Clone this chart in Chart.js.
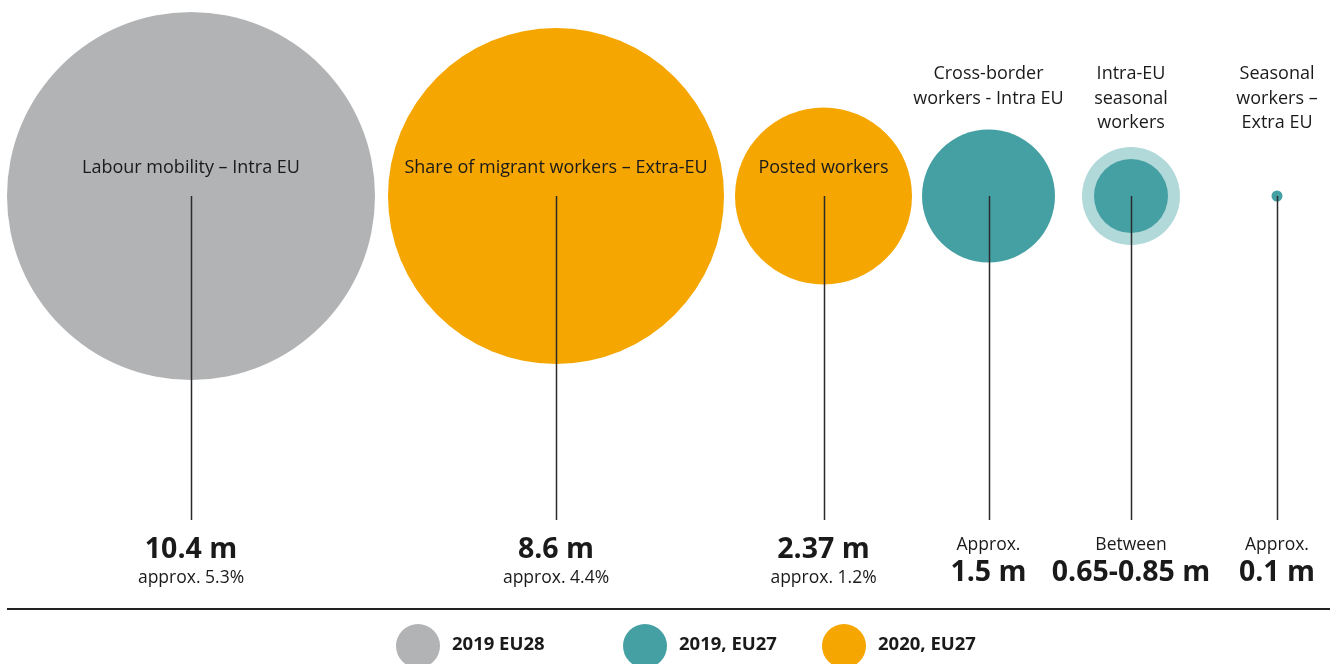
<!DOCTYPE html>
<html>
<head>
<meta charset="utf-8">
<script src="https://cdn.jsdelivr.net/npm/chart.js@4/dist/chart.umd.min.js"></script>
<style>
    html, body { margin: 0; padding: 0; background: #ffffff; }
    #wrap { width: 1336px; height: 664px; position: relative; }
</style>
</head>
<body>
<div id="wrap"><canvas id="chart"></canvas></div>
<script>
// values read from the infographic (millions of workers)
const categories = [
    'Labour mobility – Intra EU',
    'Share of migrant workers – Extra-EU',
    'Posted workers',
    'Cross-border workers - Intra EU',
    'Intra-EU seasonal workers',
    'Seasonal workers – Extra EU',
];
const seriesName = ['2019 EU28', '2019, EU27', '2020, EU27'];
const seriesOf = [0, 2, 2, 1, 1, 1];
const valueLow = [10.4, 8.6, 2.37, 1.5, 0.65, 0.1];
const valueHigh = [10.4, 8.6, 2.37, 1.5, 0.85, 0.1];
const valueText = ['10.4 m', '8.6 m', '2.37 m', '1.5 m', '0.65-0.85 m', '0.1 m'];
const prefixText = ['', '', '', 'Approx.', 'Between', 'Approx.'];
const shareText = ['approx. 5.3%', 'approx. 4.4%', 'approx. 1.2%', '', '', ''];

// layout: where each bubble sits and how big it is drawn (px)
const slotX = [191, 556, 823.5, 988.5, 1131, 1277];
const radiusLow = [184, 168, 88.5, 66.5, 37, 5.5];
const radiusHigh = [184, 168, 88.5, 66.5, 49, 5.5];
const labelInside = [true, true, true, false, false, false];
const labelLines = [
    ['Labour mobility – Intra EU'],
    ['Share of migrant workers – Extra-EU'],
    ['Posted workers'],
    ['Cross-border', 'workers - Intra EU'],
    ['Intra-EU', 'seasonal', 'workers'],
    ['Seasonal', 'workers –', 'Extra EU'],
];

const colors = ['#b2b3b5', '#45a0a3', '#f5a600'];
const ringColor = '#b2d9da';
const ink = '#1a1a1a';
const FONT = '"Open Sans", "Noto Sans", sans-serif';

const W = 1336;
const H = 664;
const centreY = 196;

// the bubbles are allowed to run to the canvas edge, so no extra padding
Chart.BubbleController.prototype.getMaxOverflow = () => 0;

const datasets = seriesName.map((name, s) => ({
    label: name,
    order: 1,
    backgroundColor: colors[s],
    borderWidth: 0,
    hoverBorderWidth: 0,
    clip: false,
    data: categories
        .map((c, i) => ({ x: slotX[i], y: 0, r: radiusLow[i], v: valueLow[i], s: seriesOf[i] }))
        .filter((p) => p.s === s),
}));

// upper bound of a range, drawn as a pale ring behind
datasets.push({
    label: 'upper range',
    order: 5,
    backgroundColor: ringColor,
    borderWidth: 0,
    hoverBorderWidth: 0,
    clip: false,
    data: categories
        .map((c, i) => ({ x: slotX[i], y: 0, r: radiusHigh[i], v: valueHigh[i] }))
        .filter((p, i) => valueHigh[i] !== valueLow[i]),
});

const annotations = {
    id: 'annotations',
    afterDatasetsDraw(chart) {
        const { ctx, scales } = chart;
        const y0 = scales.y.getPixelForValue(0);
        const lineEnd = scales.y.getPixelForValue(-324);
        ctx.save();

        categories.forEach((c, i) => {
            const x = scales.x.getPixelForValue(slotX[i]);

            ctx.strokeStyle = '#2b2b2b';
            ctx.lineWidth = 1.5;
            ctx.beginPath();
            ctx.moveTo(Math.round(x) + 0.5, y0);
            ctx.lineTo(Math.round(x) + 0.5, lineEnd);
            ctx.stroke();

            ctx.fillStyle = ink;
            ctx.textAlign = 'center';
            ctx.textBaseline = 'middle';
            ctx.font = `18px ${FONT}`;
            if (labelInside[i]) {
                ctx.fillText(labelLines[i][0], x, y0 - 28);
            } else {
                labelLines[i].forEach((t, k) => ctx.fillText(t, x, 74 + k * 24.5));
            }

            if (prefixText[i]) {
                ctx.font = `17.5px ${FONT}`;
                ctx.fillText(prefixText[i], x, 545);
                ctx.font = `bold 28.5px ${FONT}`;
                ctx.fillText(valueText[i], x, 573);
            } else {
                ctx.font = `bold 28.5px ${FONT}`;
                ctx.fillText(valueText[i], x, 550);
                ctx.font = `17.5px ${FONT}`;
                ctx.fillText(shareText[i], x, 578);
            }
        });

        // rule above legend
        ctx.strokeStyle = '#222222';
        ctx.lineWidth = 2;
        ctx.beginPath();
        ctx.moveTo(7, 609);
        ctx.lineTo(1330, 609);
        ctx.stroke();

        // legend
        const legendX = [418, 645, 844];
        seriesName.forEach((name, s) => {
            ctx.fillStyle = colors[s];
            ctx.beginPath();
            ctx.arc(legendX[s], 646, 22, 0, Math.PI * 2);
            ctx.fill();
            ctx.fillStyle = ink;
            ctx.textAlign = 'left';
            ctx.textBaseline = 'middle';
            ctx.font = `bold 18.5px ${FONT}`;
            ctx.fillText(name, legendX[s] + 34, 645);
        });

        ctx.restore();
    },
};

new Chart(document.getElementById('chart'), {
    type: 'bubble',
    data: { datasets },
    options: {
        responsive: true,
        maintainAspectRatio: false,
        animation: false,
        layout: { padding: 0 },
        plugins: {
            legend: { display: false },
            tooltip: {
                callbacks: {
                    label: (item) => `${item.raw.v} m`,
                },
            },
        },
        scales: {
            x: { type: 'linear', min: 0, max: W, display: false },
            y: { type: 'linear', min: -(H - centreY), max: centreY, display: false },
        },
    },
    plugins: [annotations],
});
</script>
</body>
</html>
